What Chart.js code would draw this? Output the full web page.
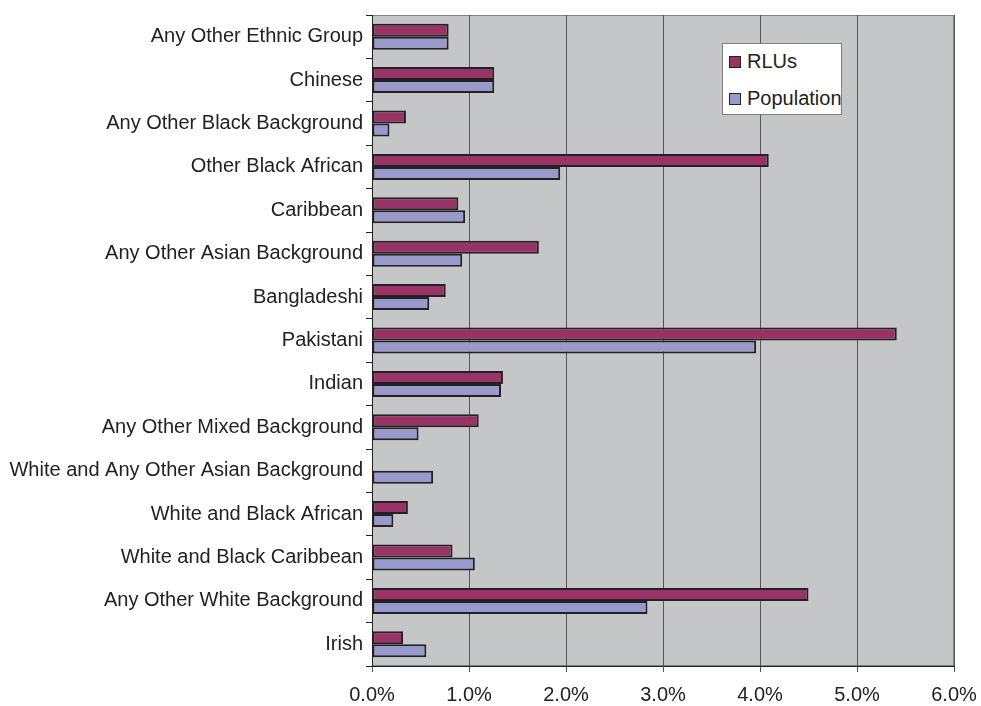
<!DOCTYPE html>
<html>
<head>
<meta charset="utf-8">
<script src="https://cdn.jsdelivr.net/npm/chart.js@4/dist/chart.umd.min.js"></script>
<style>
    body { margin: 0; background: #ffffff; }
    #wrap { position: relative; width: 981px; height: 706px; }
    #legend {
        position: absolute; left: 722px; top: 43px; width: 118px; height: 70px;
        background: #ffffff; border: 1px solid #808080;
        font-family: "Liberation Sans", Arial, sans-serif; font-size: 20px; color: #222;
    }
    .item { position: absolute; left: 6px; height: 20px; line-height: 20px; white-space: nowrap; }
    .swatch { display: inline-block; width: 10px; height: 10px; border: 1px solid #222; vertical-align: middle; margin-right: 6px; position: relative; top: -1px; }
</style>
</head>
<body>
<div id="wrap">
    <canvas id="chart"></canvas>
    <div id="legend"></div>
</div>
<script>
// Categories, top to bottom
const categories = [
    'Any Other Ethnic Group',
    'Chinese',
    'Any Other Black Background',
    'Other Black African',
    'Caribbean',
    'Any Other Asian Background',
    'Bangladeshi',
    'Pakistani',
    'Indian',
    'Any Other Mixed Background',
    'White and Any Other Asian Background',
    'White and Black African',
    'White and Black Caribbean',
    'Any Other White Background',
    'Irish'
];

// Percent values
const rlus = [0.79, 1.26, 0.35, 4.09, 0.89, 1.72, 0.76, 5.41, 1.35, 1.10, 0, 0.37, 0.83, 4.50, 0.32];
const population = [0.79, 1.26, 0.18, 1.94, 0.96, 0.93, 0.59, 3.96, 1.33, 0.48, 0.63, 0.22, 1.06, 2.84, 0.56];

const xTicks = [0, 1, 2, 3, 4, 5, 6];

const FONT = '"Liberation Sans", Arial, sans-serif';

// Gray plot area behind the bars
const plotBackground = {
    id: 'plotBackground',
    beforeDraw(chart) {
        const { ctx, chartArea: a } = chart;
        ctx.save();
        ctx.fillStyle = '#c5c6c8';
        ctx.fillRect(a.left, a.top, a.right - a.left, a.bottom - a.top);
        ctx.strokeStyle = '#808080';
        ctx.lineWidth = 1;
        ctx.strokeRect(a.left + 0.5, a.top + 0.5, a.right - a.left - 1, a.bottom - a.top - 1);
        ctx.restore();
    }
};

let chart;

document.addEventListener('DOMContentLoaded', function() {
    const ctx = document.getElementById('chart').getContext('2d');
    chart = new Chart(ctx, {
        type: 'bar',
        data: {
            labels: categories,
            datasets: [{
                label: 'RLUs',
                data: rlus,
                backgroundColor: '#993366',
                borderColor: '#222222',
                borderWidth: 2,
                borderSkipped: false
            }, {
                label: 'Population',
                data: population,
                backgroundColor: '#9999cc',
                borderColor: '#222222',
                borderWidth: 2,
                borderSkipped: false
            }]
        },
        options: {
            indexAxis: 'y',
            responsive: true,
            maintainAspectRatio: false,
            animation: false,
            datasets: { bar: { categoryPercentage: 0.6, barPercentage: 1.0 } },
            layout: { padding: { top: 7, right: 27, left: 0, bottom: 0 } },
            plugins: {
                legend: { display: false },
                tooltip: { enabled: false }
            },
            scales: {
                x: {
                    min: 0,
                    max: 6,
                    afterBuildTicks: scale => { scale.ticks = xTicks.map(v => ({ value: v })); },
                    afterFit: scale => {
                        scale.height = 40;
                        // plot edges are fixed by the layout padding
                        scale.paddingLeft = 0;
                        scale.paddingRight = 0;
                    },
                    ticks: {
                        color: '#222',
                        font: { family: FONT, size: 20 },
                        padding: 11,
                        maxRotation: 0,
                        callback: v => v.toFixed(1) + '%'
                    },
                    grid: { color: '#555', lineWidth: 1, tickLength: 6 },
                    border: { color: '#222', width: 1 }
                },
                y: {
                    afterFit: scale => { scale.width = 372; },
                    ticks: {
                        color: '#222',
                        font: { family: FONT, size: 20 },
                        padding: 3,
                        autoSkip: false
                    },
                    grid: { drawOnChartArea: false, color: '#222', tickLength: 6, offset: true },
                    border: { color: '#222', width: 1 }
                }
            }
        },
        plugins: [plotBackground]
    });

    // HTML legend built from the datasets
    const legend = document.getElementById('legend');
    const tops = [7, 44];
    chart.data.datasets.forEach((ds, i) => {
        const item = document.createElement('div');
        item.className = 'item';
        item.style.top = tops[i] + 'px';
        item.innerHTML = `<span class="swatch" style="background:${ds.backgroundColor}"></span>${ds.label}`;
        legend.appendChild(item);
    });
});
</script>
</body>
</html>
